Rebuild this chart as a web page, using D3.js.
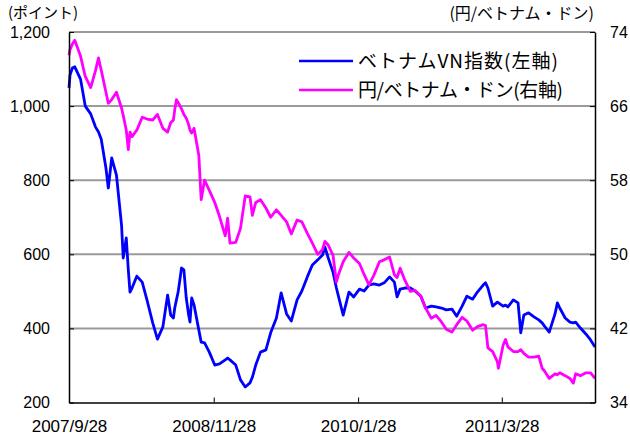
<!DOCTYPE html>
<html>
<head>
<meta charset="utf-8">
<title>ベトナムVN指数と円/ベトナム・ドン</title>
<style>
  body { margin: 0; background: #fff; }
  text { font-family: "Noto Sans CJK JP", sans-serif; fill: #000; }
  .grid line { stroke: #9a9a9a; stroke-width: 2; }
  .axis path, .axis line { stroke: #000; }
  .axis path { stroke-width: 1.5; }
  .axis text { font-family: "Liberation Sans", Arial, sans-serif; font-size: 16px; }
  .axis.bottom text { font-size: 17px; }
</style>
</head>
<body>
<svg width="630" height="439"></svg>

<script src="https://d3js.org/d3.v7.min.js"></script>
<script>
// data
var dates = [
  "2007-09-28","2007-10-01","2007-10-08","2007-10-15","2007-11-01","2007-11-15","2007-12-01","2007-12-15","2007-12-24",
  "2008-01-01","2008-01-15","2008-01-22","2008-02-01","2008-02-15","2008-03-01","2008-03-06","2008-03-15","2008-03-21","2008-03-26",
  "2008-04-01","2008-04-15","2008-05-01","2008-05-15","2008-06-01","2008-06-15","2008-07-01","2008-07-15","2008-07-24",
  "2008-08-01","2008-08-05","2008-08-10","2008-08-15","2008-08-25","2008-09-01","2008-09-08","2008-09-15","2008-09-19","2008-09-24","2008-10-01","2008-10-15","2008-10-22",
  "2008-11-01","2008-11-15","2008-12-01","2008-12-15",
  "2009-01-01","2009-01-08","2009-01-15","2009-02-01","2009-02-15","2009-03-01","2009-03-15","2009-03-22","2009-04-01","2009-04-15",
  "2009-05-01","2009-05-15","2009-06-01","2009-06-15","2009-07-01","2009-07-15","2009-08-01","2009-08-15",
  "2009-09-01","2009-09-15","2009-10-01","2009-10-15","2009-10-22","2009-11-01","2009-11-15","2009-11-25","2009-12-01","2009-12-15",
  "2010-01-01","2010-01-15","2010-02-01","2010-02-15","2010-03-01","2010-03-15","2010-04-01","2010-04-15",
  "2010-05-01","2010-05-15","2010-05-23","2010-06-01","2010-06-15","2010-07-01","2010-07-15","2010-08-01","2010-08-15",
  "2010-09-01","2010-09-15","2010-10-01","2010-10-15","2010-11-01","2010-11-15","2010-12-01","2010-12-15",
  "2011-01-01","2011-01-15","2011-02-01","2011-02-08","2011-02-15","2011-03-01","2011-03-15","2011-03-18","2011-04-01","2011-04-08","2011-04-15",
  "2011-05-01","2011-05-15","2011-05-23","2011-06-01","2011-06-15","2011-07-01","2011-07-15","2011-07-25","2011-08-01","2011-08-15",
  "2011-09-01","2011-09-08","2011-09-15","2011-10-01","2011-10-15","2011-10-25","2011-11-01","2011-11-15","2011-12-01","2011-12-15","2011-12-28"
];

var vnIndex = [
  1049,1084,1103,1106,1073,1000,979,944,930,
  911,833,779,860,814,679,590,644,558,498,
  509,541,525,477,415,371,404,490,436,
  428,455,477,498,563,558,482,436,417,482,463,396,363,
  361,336,301,304,
  315,320,315,301,261,242,253,268,301,336,
  342,388,428,496,439,420,477,501,
  541,571,585,598,620,590,552,509,487,436,
  498,485,506,501,517,520,517,523,
  539,525,485,506,509,509,501,487,455,
  460,458,455,450,452,433,460,487,
  479,498,517,523,509,460,471,469,460,463,458,
  477,469,388,436,442,431,423,415,406,390,
  439,469,455,428,417,415,417,401,385,369,350
];

var yenPerDong = [
  71.5,72.1,72.7,73.1,71.4,69.2,68.0,69.8,71.2,
  69.9,67.5,66.3,66.7,67.5,65.8,65.0,63.4,61.3,63.2,
  62.7,63.4,64.8,64.6,64.5,65.1,63.6,63.2,64.2,
  64.5,65.6,66.7,66.4,65.7,65.1,64.7,64.0,63.4,63.1,63.6,60.7,55.9,
  58.0,56.9,55.6,54.1,
  52.0,53.9,51.2,51.3,52.8,56.3,56.2,54.2,55.6,55.9,
  55.0,54.0,54.8,54.2,53.5,52.2,53.7,53.5,
  52.2,51.2,50.0,50.5,51.4,51.0,49.9,47.0,47.8,49.2,
  50.2,49.6,49.0,47.8,46.7,47.7,49.2,49.4,
  49.7,47.8,47.5,48.5,47.2,46.0,46.1,45.5,44.2,
  43.1,43.4,42.7,41.9,41.6,42.4,43.2,42.8,
  41.8,42.2,42.4,42.3,39.9,39.5,38.4,37.7,40.2,40.8,40.0,
  39.5,39.5,39.7,39.3,38.9,38.9,39.0,37.7,37.4,36.6,
  37.1,37.0,37.2,36.9,36.6,36.1,37.1,36.9,37.2,37.2,36.6
];

var leftTicks = [200, 400, 600, 800, 1000, 1200];
var rightTicks = [34, 42, 50, 58, 66, 74];
var dateTicks = ["2007-09-28", "2008-11-28", "2010-01-28", "2011-03-28"];
var seriesNames = ["ベトナムVN指数(左軸)", "円/ベトナム・ドン(右軸)"];
var seriesColors = ["#0000ff", "#ff00ff"];

var parseDate = d3.timeParse("%Y-%m-%d");

var svg = d3.select("svg");
var margin = {top: 32, right: 35, bottom: 36.5, left: 69};
var width = svg.attr("width") - margin.left - margin.right;
var height = svg.attr("height") - margin.top - margin.bottom;

var g = svg.append("g")
    .attr("transform", "translate(" + margin.left + "," + margin.top + ")");

var x = d3.scaleTime()
    .domain([parseDate(dates[0]), parseDate(dates[dates.length - 1])])
    .range([0, width]);

var yLeft = d3.scaleLinear().domain([200, 1200]).range([height, 0]);
var yRight = d3.scaleLinear().domain([34, 74]).range([height, 0]);

// gridlines
g.append("g")
    .attr("class", "grid")
  .selectAll("line")
  .data(leftTicks.slice(1))
  .enter().append("line")
    .attr("x1", 0)
    .attr("x2", width)
    .attr("y1", function(d) { return yLeft(d); })
    .attr("y2", function(d) { return yLeft(d); });

// the two series
var rows = dates.map(function(d, i) {
  return {date: parseDate(d), vn: vnIndex[i], jpy: yenPerDong[i]};
});

var lineVn = d3.line()
    .x(function(d) { return x(d.date); })
    .y(function(d) { return yLeft(d.vn); });

var lineJpy = d3.line()
    .x(function(d) { return x(d.date); })
    .y(function(d) { return yRight(d.jpy); });

g.append("path")
    .datum(rows)
    .attr("fill", "none")
    .attr("stroke", seriesColors[0])
    .attr("stroke-width", 2.8)
    .attr("stroke-linejoin", "round")
    .attr("d", lineVn);

g.append("path")
    .datum(rows)
    .attr("fill", "none")
    .attr("stroke", seriesColors[1])
    .attr("stroke-width", 2.8)
    .attr("stroke-linejoin", "round")
    .attr("d", lineJpy);

// axes, ticks point inward
g.append("g")
    .attr("class", "axis bottom")
    .attr("transform", "translate(0," + height + ")")
    .call(d3.axisBottom(x)
      .tickValues(dateTicks.map(parseDate))
      .tickFormat(d3.timeFormat("%Y/%-m/%-d"))
      .tickSizeInner(-5)
      .tickSizeOuter(0)
      .tickPadding(17));

g.append("g")
    .attr("class", "axis")
    .call(d3.axisLeft(yLeft)
      .tickValues(leftTicks)
      .tickFormat(d3.format(","))
      .tickSizeInner(-5)
      .tickSizeOuter(0)
      .tickPadding(19));

g.append("g")
    .attr("class", "axis")
    .attr("transform", "translate(" + width + ",0)")
    .call(d3.axisRight(yRight)
      .tickValues(rightTicks)
      .tickSizeInner(-5)
      .tickSizeOuter(0)
      .tickPadding(15));

// axis titles
svg.append("text")
    .attr("x", 8)
    .attr("y", 18)
    .attr("font-size", 15)
    .text("(ポイント)");

svg.append("text")
    .attr("x", 594)
    .attr("y", 19)
    .attr("font-size", 16)
    .attr("text-anchor", "end")
    .text("(円/ベトナム・ドン)");

// legend
var legend = g.append("g")
  .selectAll("g")
  .data(seriesNames)
  .enter().append("g")
    .attr("transform", function(d, i) {
      return "translate(230," + (29 + i * 29) + ")";
    });

legend.append("line")
    .attr("x1", 0)
    .attr("x2", 54)
    .attr("stroke", function(d, i) { return seriesColors[i]; })
    .attr("stroke-width", 2.6);

legend.append("text")
    .attr("x", 59)
    .attr("dy", "0.35em")
    .attr("font-size", 19)
    .attr("textLength", function(d, i) { return i ? 205 : 200; })
    .attr("lengthAdjust", "spacing")
    .text(function(d) { return d; });
</script>
</body>
</html>
